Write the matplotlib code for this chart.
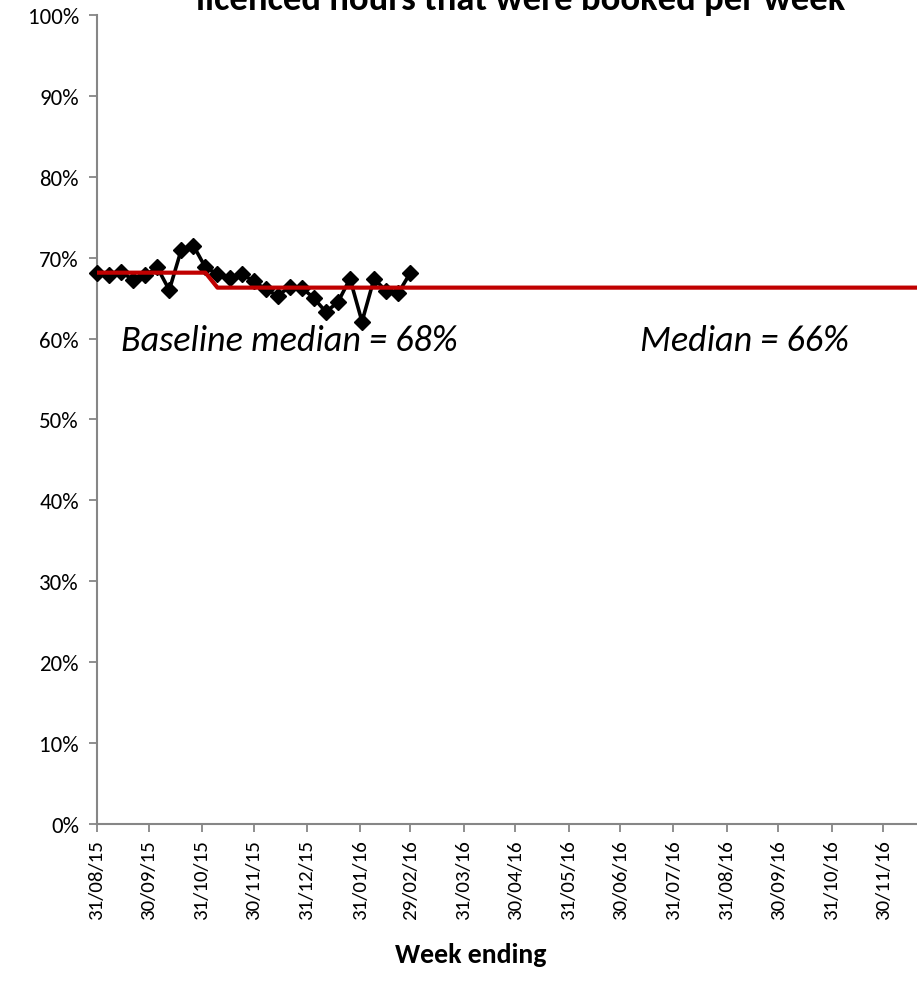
import matplotlib
matplotlib.use("Agg")
import matplotlib.pyplot as plt
from matplotlib.ticker import FuncFormatter, MultipleLocator
import numpy as np
from datetime import datetime, timedelta

plt.rcParams['font.family'] = ['Carlito', 'Lato', 'DejaVu Sans']

# Weekly share of licenced hours that were booked (%)
first_week = datetime(2015, 8, 31)
booked_pct = [68.1, 67.8, 68.2, 67.3, 67.8, 68.8, 66.0, 71.0, 71.5, 68.8,
              68.0, 67.5, 68.0, 67.1, 66.1, 65.3, 66.4, 66.3, 65.0, 63.3,
              64.5, 67.4, 62.1, 67.4, 65.9, 65.6, 68.1]
baseline_weeks = 10
median_until = datetime(2016, 12, 26)

tick_labels = ["31/08/15", "30/09/15", "31/10/15", "30/11/15", "31/12/15",
               "31/01/16", "29/02/16", "31/03/16", "30/04/16", "31/05/16",
               "30/06/16", "31/07/16", "31/08/16", "30/09/16", "31/10/16",
               "30/11/16"]

title_text = "licenced hours that were booked per week"
x_title = "Week ending"

weeks = [first_week + timedelta(days=7 * i) for i in range(len(booked_pct))]
values = np.array(booked_pct) / 100.0

baseline_median = np.median(values[:baseline_weeks])
later_median = np.median(values[baseline_weeks:])

n_med = (median_until - first_week).days // 7 + 1
median_weeks = [first_week + timedelta(days=7 * i) for i in range(n_med)]
median_vals = [baseline_median if i < baseline_weeks else later_median
               for i in range(n_med)]

W, H = 917, 987
fig = plt.figure(figsize=(W / 100, H / 100), dpi=100)
ax = fig.add_axes([97 / W, (H - 825) / H, (W - 97) / W, (825 - 16) / H])

ax.plot(weeks, values, color='black', lw=2.6, marker='D', markersize=8,
        zorder=3, clip_on=False)
ax.plot(median_weeks, median_vals, color='#C00000', lw=3.0, zorder=4,
        solid_capstyle='butt')

ax.set_ylim(0, 1)
ax.yaxis.set_major_locator(MultipleLocator(0.1))
ax.yaxis.set_major_formatter(FuncFormatter(lambda v, p: f"{v * 100:.0f}%"))

x_end = first_week + timedelta(days=476.5)
ax.set_xlim(first_week, x_end)
tick_dates = [datetime.strptime(t, "%d/%m/%y") for t in tick_labels]
ax.set_xticks(tick_dates)
ax.set_xticklabels(tick_labels, rotation=90)

for s in ('top', 'right'):
    ax.spines[s].set_visible(False)
for s in ('left', 'bottom'):
    ax.spines[s].set_color('#868686')
    ax.spines[s].set_linewidth(1.5)
ax.tick_params(axis='both', colors='#868686', length=6, width=1.3,
               labelcolor='black')
ax.tick_params(axis='y', pad=7, labelsize=16.5)
ax.tick_params(axis='x', pad=5, labelsize=15)

ax.text(first_week + timedelta(days=112), 0.598,
        f"Baseline median = {baseline_median * 100:.0f}%",
        ha='center', va='center', fontsize=26, style='italic')
ax.text(first_week + timedelta(days=376), 0.598,
        f"Median = {later_median * 100:.0f}%",
        ha='center', va='center', fontsize=26, style='italic')

fig.text(521 / W, 1 - 10 / H, title_text, ha='center', va='baseline',
         fontsize=26.4, fontweight='bold')
fig.text(471 / W, 1 - 955 / H, x_title, ha='center', va='center',
         fontsize=20, fontweight='bold')

fig.savefig("out.png", dpi=100)
